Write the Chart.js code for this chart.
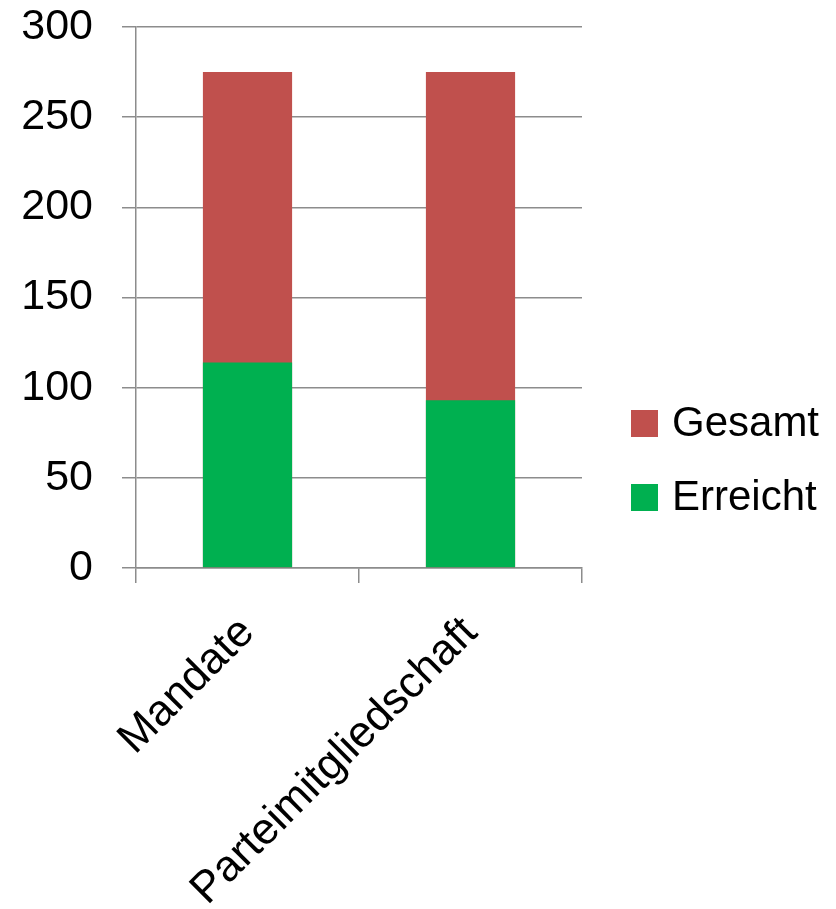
<!DOCTYPE html>
<html>
<head>
<meta charset="utf-8">
<script src="https://cdn.jsdelivr.net/npm/chart.js@4/dist/chart.umd.min.js"></script>
<style>
  html, body { margin: 0; padding: 0; background: #fff; }
  #wrap { width: 836px; height: 909px; }
</style>
</head>
<body>
<div id="wrap"><canvas id="chart" width="836" height="909"></canvas></div>
<script>
const categories = ['Mandate', 'Parteimitgliedschaft'];
const erreicht = [114, 93];
const gesamt = [275, 275];
const yTicks = [0, 50, 100, 150, 200, 250, 300];

const FAMILY = '"Liberation Sans", Arial, sans-serif';
const GRID = '#8c8c8c';

// Legende rechts, vertikal auf die ganze Fläche zentriert (wie Excel)
const sideLegend = {
    id: 'sideLegend',
    afterDraw(chart) {
        const ctx = chart.ctx;
        const items = chart.data.datasets.slice().reverse();
        const box = 27, x = 631, top = 410, step = 74;
        ctx.save();
        ctx.font = `42px ${FAMILY}`;
        ctx.textBaseline = 'middle';
        ctx.textAlign = 'left';
        items.forEach((ds, i) => {
            const y = top + i * step;
            ctx.fillStyle = ds.backgroundColor;
            ctx.fillRect(x, y, box, box);
            ctx.fillStyle = '#000';
            ctx.fillText(ds.label, x + 41, y + box / 2 + 1);
        });
        ctx.restore();
    }
};

new Chart(document.getElementById('chart'), {
    type: 'bar',
    data: {
        labels: categories,
        datasets: [
            { label: 'Erreicht', data: erreicht, backgroundColor: '#00B050' },
            { label: 'Gesamt', data: gesamt, backgroundColor: '#C0504D' }
        ]
    },
    options: {
        responsive: false,
        animation: false,
        layout: { padding: { top: 27, right: 254, bottom: 0, left: 0 } },
        datasets: {
            bar: { grouped: false, categoryPercentage: 1, barPercentage: 0.4, borderWidth: 0 }
        },
        plugins: { legend: { display: false }, tooltip: { enabled: false } },
        scales: {
            x: {
                offset: true,
                afterFit: s => { s.height = 341; },
                grid: { offset: true, drawOnChartArea: false, drawTicks: true, tickLength: 15, color: GRID, lineWidth: 1.5 },
                border: { color: GRID, width: 1.5 },
                ticks: { color: '#000', font: { family: FAMILY, size: 44 }, minRotation: 45, maxRotation: 45, autoSkip: false, padding: 24 }
            },
            y: {
                min: 0,
                max: 300,
                afterFit: s => { s.width = 136; s.paddingTop = 0; s.paddingBottom = 0; },
                afterBuildTicks: s => { s.ticks = yTicks.map(v => ({ value: v })); },
                grid: { color: GRID, lineWidth: 1.5, tickLength: 14, tickColor: GRID },
                border: { color: GRID, width: 1.5 },
                ticks: { color: '#000', font: { family: FAMILY, size: 43 }, padding: 29 }
            }
        }
    },
    plugins: [sideLegend]
});
</script>
</body>
</html>
